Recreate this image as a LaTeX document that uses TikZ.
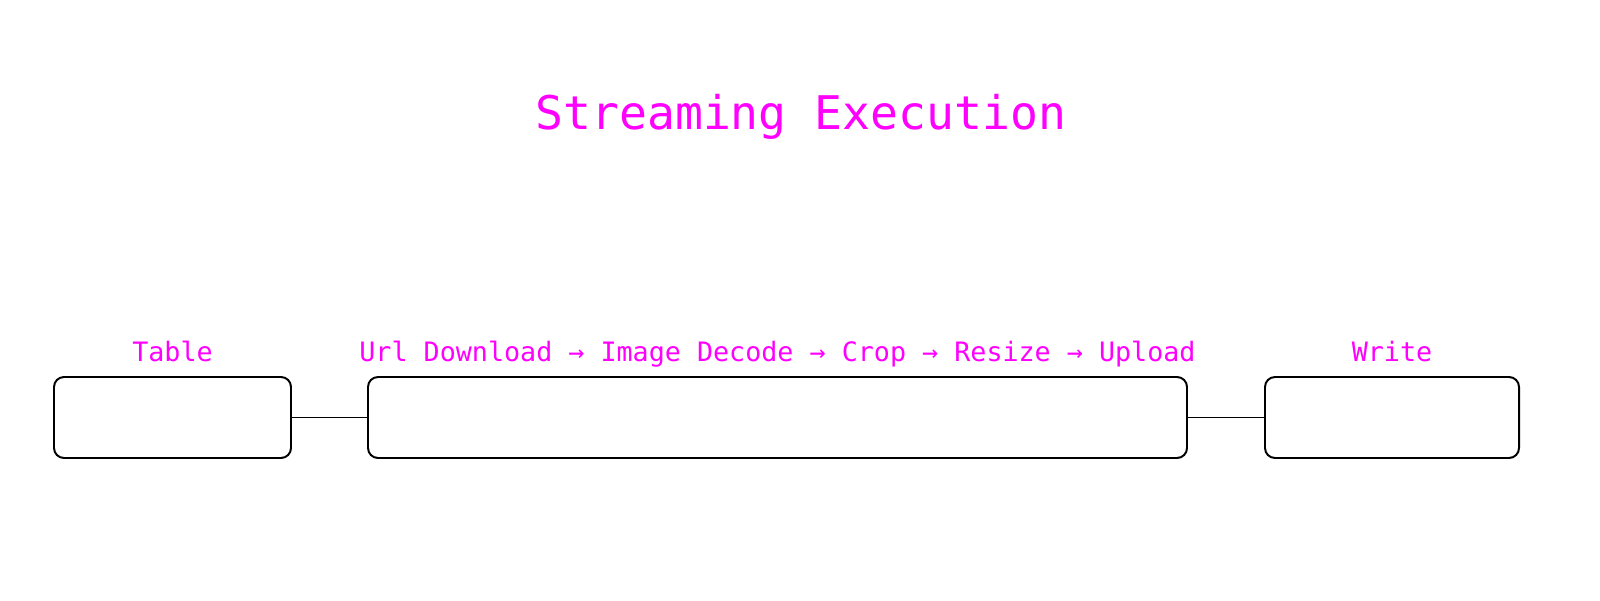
\documentclass[tikz,border=0pt]{standalone}
\usepackage{fontspec}
\setmonofont{DejaVu Sans Mono}
\usetikzlibrary{positioning}
\definecolor{labelpink}{HTML}{FF00FF}
\tikzset{
    stage/.style={draw=black, line width=1.4pt, rounded corners=0.25cm, minimum height=2.025cm, inner sep=0pt},
    stagelabel/.style={text=labelpink, font=\ttfamily\fontsize{19}{22}\selectfont, inner sep=0pt},
    link/.style={draw=black, line width=0.7pt}
}
\begin{document}
\begin{tikzpicture}
                 \useasboundingbox (0,0) rectangle (40,15);
                 \node[text=labelpink, font=\ttfamily\fontsize{33}{38}\selectfont, anchor=base] (title) at (20.02,11.75) {Streaming Execution};
                 \node[stage, minimum width=5.925cm] (table) at (4.3125,4.5625) {};
                 \node[stage, minimum width=20.475cm] (stream) at (19.4375,4.5625) {};
                 \node[stage, minimum width=6.35cm] (write) at (34.8,4.5625) {};
                 \node[stagelabel, above=0.375cm of table, anchor=base] (tablelabel) {Table};
                 \node[stagelabel, above=0.375cm of stream, anchor=base] (streamlabel) {Url Download → Image Decode → Crop → Resize → Upload};
                 \node[stagelabel, above=0.375cm of write, anchor=base] (writelabel) {Write};
                 \draw[link] (table) -- (stream);
                 \draw[link] (stream) -- (write);
            \end{tikzpicture}
\end{document}
